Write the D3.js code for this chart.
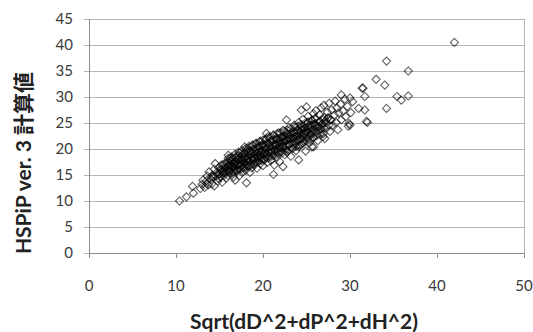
<!DOCTYPE html>
<html>
<head>
<meta charset="utf-8">
<script src="https://cdn.jsdelivr.net/npm/d3@7"></script>
<style>
  body { margin: 0; background: #fff; }
  svg { display: block; }
</style>
</head>
<body>
<svg id="chart" width="533" height="332"></svg>
<script>
// axis ticks
const xTicks = [0, 10, 20, 30, 40, 50];
const yTicks = [0, 5, 10, 15, 20, 25, 30, 35, 40, 45];

// main body of the cloud [sqrt, hspip]
const corePoints = [
  [13.0,13.2],[13.1,14.0],[13.3,12.6],
  [13.5,13.9],[13.6,14.8],[13.7,13.1],[13.8,15.6],
  [14.0,14.2],[14.1,13.3],[14.2,15.0],[14.3,14.6],[14.4,12.9],[14.4,16.1],
  [14.6,14.8],[14.7,15.5],[14.8,13.8],[14.9,16.4],[14.9,14.3],
  [15.0,15.2],[15.1,14.6],[15.2,16.0],[15.3,13.6],[15.3,15.7],[15.4,17.0],[15.5,14.9],
  [15.6,15.4],[15.7,16.3],[15.8,14.4],[15.8,17.3],[15.9,15.9],[16.0,16.8],[16.0,14.9],[16.1,15.6],
  [16.2,16.9],[16.3,16.2],[16.3,17.7],[16.4,15.3],[16.5,16.6],[16.5,18.2],[16.6,14.6],[16.7,17.2],[16.7,15.9],
  [16.8,16.4],[16.9,17.6],[17.0,18.6],[17.0,15.7],[17.1,17.0],[17.2,16.2],[17.2,18.1],[17.3,19.2],[17.3,14.9],[17.4,17.4],
  [17.5,16.8],[17.6,18.0],[17.6,15.5],[17.7,17.7],[17.8,19.1],[17.8,16.5],[17.9,17.3],[18.0,18.4],[18.0,15.9],[18.1,19.7],[18.1,17.0],
  [18.2,18.0],[18.3,16.7],[18.3,20.1],[18.4,17.6],[18.5,18.8],[18.5,15.5],[18.6,17.2],[18.6,19.5],[18.7,18.3],[18.7,16.4],
  [18.8,20.6],[18.9,17.8],[19.0,18.9],[19.0,16.9],[19.1,19.8],[19.1,18.2],[19.2,17.5],[19.2,21.0],[19.3,18.6],[19.3,16.3],
  [19.4,19.3],[19.5,17.9],[19.5,20.4],[19.6,18.8],[19.7,21.5],[19.7,17.2],[19.8,19.6],[19.8,18.3],[19.9,20.8],[20.0,19.0],[20.0,16.8],
  [20.1,17.9],[20.1,20.3],[20.2,19.4],[20.3,21.8],[20.3,18.5],[20.4,20.0],[20.5,17.4],[20.5,19.0],[20.6,21.1],[20.6,22.4],
  [20.7,18.6],[20.8,19.9],[20.8,20.7],[20.9,17.8],[21.0,21.6],[21.0,19.3],[21.1,20.2],[21.2,22.7],[21.2,18.8],[21.3,21.0],[21.3,16.9],
  [21.4,19.8],[21.5,20.6],[21.5,22.0],[21.6,18.4],[21.7,21.3],[21.7,19.5],[21.8,23.1],[21.9,20.2],[21.9,17.6],[22.0,21.7],[22.0,20.9],
  [22.1,19.6],[22.2,22.4],[22.3,20.5],[22.3,23.6],[22.4,21.2],[22.5,18.9],[22.5,22.0],[22.6,20.0],[22.7,21.6],[22.7,23.0],
  [22.8,19.4],[22.9,22.3],[23.0,20.8],[23.0,24.1],[23.1,21.9],[23.2,18.6],[23.2,22.7],[23.3,21.3],[23.4,23.4],[23.4,20.1],
  [23.5,22.1],[23.6,24.6],[23.7,21.0],[23.7,22.9],[23.8,19.7],[23.9,23.6],[24.0,22.4],[24.0,21.6],[24.1,25.1],[24.1,20.4],
  [24.2,23.1],[24.3,22.0],[24.4,24.3],[24.4,20.9],[24.5,23.7],[24.6,22.6],[24.6,25.7],[24.7,21.4],[24.8,24.0],[24.8,22.9],
  [24.9,19.6],[25.0,23.4],[25.1,25.0],[25.1,22.1],[25.2,26.3],[25.3,23.9],[25.3,21.2],[25.4,24.6],[25.5,22.7],
  [25.6,25.5],[25.7,23.6],[25.8,26.8],[25.8,22.2],[25.9,24.8],[26.0,25.9],[26.1,23.3],[26.1,27.4],[26.2,24.3],
  [26.3,21.6],[26.4,25.2],[26.5,26.6],[26.6,23.8],[26.7,27.9],[26.8,24.9],[26.9,22.9],[27.0,26.1],[27.0,28.4],
  [27.2,25.4],[27.3,24.0],[27.4,27.1],[27.5,26.0],[27.6,28.8],[27.7,23.4],[27.8,25.6],[27.9,27.5],[28.0,24.6],
  [28.2,26.5],[28.3,29.2],[28.4,25.1],[28.5,27.9],[28.6,23.7],[28.7,26.9],[28.9,28.6],[29.0,25.6],
  [29.2,27.3],[29.4,29.6],[29.5,26.2],[29.7,28.2],[29.9,24.9],[30.1,27.0],[30.3,29.1]
];

// the crowded, almost black centre of the band
const centerPoints = [
  [15.0,15.2],[15.1,16.1],[15.2,16.9],
  [15.4,15.4],[15.5,16.4],[15.6,17.2],
  [15.8,15.6],[15.9,16.6],[16.0,17.5],[16.0,18.2],
  [16.2,15.9],[16.3,16.8],[16.4,17.6],[16.4,18.5],
  [16.6,15.6],[16.6,16.5],[16.7,17.4],[16.8,18.3],[16.8,19.0],
  [17.0,15.9],[17.0,16.9],[17.1,17.8],[17.2,18.7],[17.2,19.4],
  [17.4,16.1],[17.4,17.1],[17.5,18.0],[17.6,18.9],[17.6,19.7],
  [17.8,16.3],[17.8,17.4],[17.9,18.3],[18.0,19.2],[18.0,20.1],
  [18.2,16.6],[18.2,17.7],[18.3,18.7],[18.4,19.6],[18.4,20.5],
  [18.6,16.9],[18.6,18.0],[18.7,19.0],[18.8,19.9],[18.8,20.8],
  [19.0,17.2],[19.0,18.3],[19.1,19.3],[19.2,20.2],[19.2,21.1],
  [19.4,17.5],[19.4,18.5],[19.5,19.5],[19.6,20.5],[19.6,21.4],
  [19.8,17.8],[19.8,18.8],[19.9,19.8],[20.0,20.8],[20.0,21.7],
  [20.2,18.0],[20.2,19.0],[20.3,20.1],[20.4,21.1],[20.4,22.0],
  [20.6,18.3],[20.6,19.3],[20.7,20.4],[20.8,21.4],[20.8,22.3],
  [21.0,18.6],[21.0,19.6],[21.1,20.7],[21.2,21.7],[21.2,22.6],
  [21.4,18.8],[21.4,19.8],[21.5,20.9],[21.6,21.9],[21.6,22.9],
  [21.8,19.1],[21.8,20.1],[21.9,21.2],[22.0,22.2],[22.0,23.1],
  [22.2,19.3],[22.2,20.3],[22.3,21.4],[22.4,22.4],[22.4,23.4],
  [22.6,19.6],[22.6,20.6],[22.7,21.7],[22.8,22.7],[22.8,23.6],
  [23.0,19.9],[23.0,20.9],[23.1,22.0],[23.2,23.0],[23.2,23.9],
  [23.4,20.2],[23.4,21.2],[23.5,22.2],[23.6,23.2],[23.6,24.2],
  [23.8,20.5],[23.8,21.5],[23.9,22.5],[24.0,23.5],[24.0,24.4],
  [24.2,20.8],[24.2,21.8],[24.3,22.7],[24.4,23.7],[24.4,24.7],
  [24.6,21.1],[24.6,22.1],[24.7,23.0],[24.8,24.0],[24.8,24.9],
  [25.0,21.5],[25.0,22.4],[25.1,23.3],[25.2,24.3],[25.2,25.2],
  [25.4,21.9],[25.4,22.8],[25.5,23.6],[25.6,24.6],[25.6,25.5],
  [25.8,22.2],[25.8,23.1],[25.9,23.9],[26.0,24.9],[26.0,25.8],
  [26.2,22.6],[26.3,23.5],[26.4,24.3],[26.5,25.3],
  [26.6,23.0],[26.7,23.9],[26.8,24.7],[26.9,25.7],
  [27.0,24.1],[27.2,25.0],[27.4,25.9],
  [27.6,24.6],[27.8,25.6]
];

// scattered points and outliers
const spreadPoints = [
  [10.4,10.0],[11.2,10.8],[12.0,11.5],[11.9,12.8],[12.8,12.4],[13.5,13.4],[14.1,14.7],[14.5,17.2],
  [16.2,18.2],[18.1,13.5],[16.8,14.0],[21.2,15.1],[22.3,16.6],[24.1,17.9],[25.8,20.4],[27.1,22.0],
  [20.4,23.0],[22.7,25.6],[25.0,28.1],[29.0,30.4],[31.5,31.7],[34.0,32.3],[31.9,25.3],[34.2,27.8],
  [30.0,24.6],[17.9,20.4],[16.0,18.8],[42.0,40.5],[34.2,36.9],[36.7,35.0],[33.0,33.4],[35.4,30.1],
  [35.9,29.4],[36.7,30.2],[32.0,25.1],[31.4,31.7],[31.7,30.1],[31.7,27.5],[31.0,27.8],[30.0,29.8],
  [29.8,24.4],[25.6,20.4],[26.9,22.4],[24.4,27.5]
];

const margin = { top: 19, right: 9, bottom: 79, left: 89 };
const width = 533, height = 332;

const svg = d3.select('#chart');

const x = d3.scaleLinear().domain([0, 50]).range([margin.left, width - margin.right]);
const y = d3.scaleLinear().domain([0, 45]).range([height - margin.bottom, margin.top]);

// gridlines
svg.append('g')
  .selectAll('line')
  .data(yTicks)
  .join('line')
  .attr('x1', margin.left - 5)
  .attr('x2', width - margin.right)
  .attr('y1', d => Math.round(y(d)) + 0.5)
  .attr('y2', d => Math.round(y(d)) + 0.5)
  .attr('stroke', '#b5b5b5')
  .attr('stroke-width', 1);

// frame: right side
svg.append('line')
  .attr('x1', Math.round(x(50)) + 0.5).attr('x2', Math.round(x(50)) + 0.5)
  .attr('y1', y(45)).attr('y2', y(0))
  .attr('stroke', '#b5b5b5');

// y axis line
svg.append('line')
  .attr('x1', margin.left + 0.5).attr('x2', margin.left + 0.5)
  .attr('y1', y(45)).attr('y2', y(0) + 0.5)
  .attr('stroke', '#8c8c8c');

// x axis ticks
svg.append('g')
  .selectAll('line')
  .data(xTicks)
  .join('line')
  .attr('x1', d => Math.round(x(d)) + 0.5)
  .attr('x2', d => Math.round(x(d)) + 0.5)
  .attr('y1', y(0))
  .attr('y2', y(0) + 5)
  .attr('stroke', '#8c8c8c');

svg.append('line')
  .attr('x1', margin.left).attr('x2', width - margin.right)
  .attr('y1', Math.round(y(0)) + 0.5).attr('y2', Math.round(y(0)) + 0.5)
  .attr('stroke', '#8c8c8c');

// tick labels
svg.append('g')
  .selectAll('text')
  .data(yTicks)
  .join('text')
  .attr('x', 73)
  .attr('y', d => y(d))
  .attr('dy', '0.35em')
  .attr('text-anchor', 'end')
  .attr('font-family', 'Lato, sans-serif')
  .attr('font-size', 15)
  .attr('fill', '#3a3a3a')
  .text(d => d);

svg.append('g')
  .selectAll('text')
  .data(xTicks)
  .join('text')
  .attr('x', d => x(d))
  .attr('y', 286)
  .attr('dy', '0.35em')
  .attr('text-anchor', 'middle')
  .attr('font-family', 'Lato, sans-serif')
  .attr('font-size', 15)
  .attr('fill', '#3a3a3a')
  .text(d => d);

// axis titles
svg.append('text')
  .attr('x', 304)
  .attr('y', 322)
  .attr('dy', '0.35em')
  .attr('text-anchor', 'middle')
  .attr('font-family', 'Lato, sans-serif')
  .attr('font-weight', 'bold')
  .attr('font-size', 21)
  .attr('fill', '#222')
  .text('Sqrt(dD^2+dP^2+dH^2)');

svg.append('text')
  .attr('transform', 'translate(24,163) rotate(-90)')
  .attr('dy', '0.35em')
  .attr('text-anchor', 'middle')
  .attr('font-family', 'Lato, "Noto Sans CJK JP", sans-serif')
  .attr('font-weight', 'bold')
  .attr('font-size', 21)
  .attr('fill', '#222')
  .text('HSPiP ver. 3 計算値');

// markers
const diamond = d3.symbol().type(d3.symbolDiamond2).size(42);

svg.append('g')
  .selectAll('path')
  .data(spreadPoints.concat(corePoints, centerPoints))
  .join('path')
  .attr('transform', d => 'translate(' + x(d[0]) + ',' + y(d[1]) + ')')
  .attr('d', diamond)
  .attr('fill', 'none')
  .attr('stroke', '#000')
  .attr('stroke-opacity', 0.62)
  .attr('stroke-width', 1.1);
</script>
</body>
</html>
